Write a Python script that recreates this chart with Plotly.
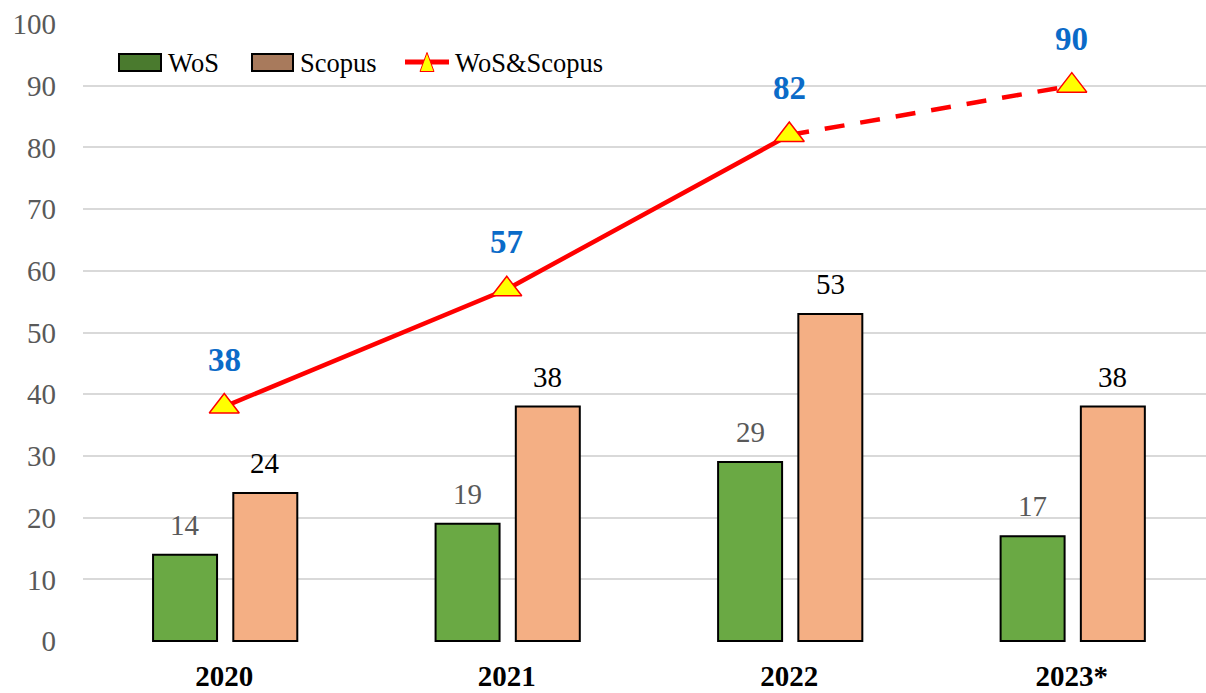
import plotly.graph_objects as go

years = ["2020", "2021", "2022", "2023*"]
wos = [14, 19, 29, 17]
scopus = [24, 38, 53, 38]
total = [38, 57, 82, 90]
yticks = [0, 10, 20, 30, 40, 50, 60, 70, 80, 90, 100]

FONT = "Liberation Serif, Times New Roman, serif"
GREEN = "#6AA944"
ORANGE = "#F4AF84"
RED = "#FF0000"
xi = list(range(len(years)))

W, H = 1206, 693
L, R, T, B = 83, 0, 23, 51
PW, PH = W - L - R, H - T - B


def px(X):
    return (X - L) / PW


def py(Y):
    return (H - B - Y) / PH


fig = go.Figure()
fig.add_trace(go.Bar(
    x=xi, y=wos, name="WoS", width=0.2265, offset=-0.252, showlegend=False,
    marker=dict(color=GREEN, line=dict(color="black", width=2)),
))
fig.add_trace(go.Bar(
    x=xi, y=scopus, name="Scopus", width=0.2265, offset=0.032, showlegend=False,
    marker=dict(color=ORANGE, line=dict(color="black", width=2)),
))
fig.add_trace(go.Scatter(
    x=xi[2:], y=total[2:], mode="lines", showlegend=False,
    line=dict(color=RED, width=4.5, dash="20px,16px"),
))
fig.add_trace(go.Scatter(
    x=xi[:3], y=total[:3], mode="lines", name="WoS&Scopus", showlegend=False,
    line=dict(color=RED, width=4.5),
))
fig.add_trace(go.Scatter(
    x=xi, y=total, mode="markers", showlegend=False, cliponaxis=False,
    marker=dict(symbol="triangle-up", size=26, color="#FFFF00", line=dict(color=RED, width=1.5)),
))

for x, v in zip(xi, wos):
    fig.add_annotation(x=x - 0.1385, y=v, text=str(v), showarrow=False, yshift=30, yanchor="middle",
                       font=dict(family=FONT, size=29, color="#595959"))
for x, v in zip(xi, scopus):
    fig.add_annotation(x=x + 0.1455, y=v, text=str(v), showarrow=False, yshift=30, yanchor="middle",
                       font=dict(family=FONT, size=29, color="black"))
for x, v in zip(xi, total):
    fig.add_annotation(x=x, y=v, text=f"<b>{v}</b>", showarrow=False, yshift=47, yanchor="middle",
                       font=dict(family=FONT, size=33, color="#0B6BC8"))

# custom legend (pixel positions in the picture)
shapes = []
shapes.append(dict(type="rect", xref="paper", yref="paper", x0=px(119), x1=px(161), y0=py(71), y1=py(54),
                   fillcolor="#4A7A2E", line=dict(color="black", width=2)))
shapes.append(dict(type="rect", xref="paper", yref="paper", x0=px(252), x1=px(293), y0=py(71), y1=py(54),
                   fillcolor="#A87A5C", line=dict(color="black", width=2)))
shapes.append(dict(type="line", xref="paper", yref="paper", x0=px(405), x1=px(449), y0=py(62), y1=py(62),
                   line=dict(color=RED, width=5)))
shapes.append(dict(type="path", xref="paper", yref="paper",
                   path=f"M {px(420)} {py(71.5)} L {px(427)} {py(52.5)} L {px(434)} {py(71.5)} Z",
                   fillcolor="#FFFF00", line=dict(color=RED, width=1)))
fig.update_layout(shapes=shapes)
for X, label in [(166, "WoS"), (298, "Scopus"), (453, "WoS&Scopus")]:
    fig.add_annotation(xref="paper", yref="paper", x=px(X), y=py(63), xanchor="left", yanchor="middle",
                       text=label, showarrow=False, font=dict(family=FONT, size=26.5, color="black"))

fig.update_layout(
    width=W, height=H,
    margin=dict(l=L, r=R, t=T, b=B, autoexpand=False),
    plot_bgcolor="white", paper_bgcolor="white",
    barmode="overlay",
    showlegend=False,
    xaxis=dict(range=[-0.5, 3.475], tickmode="array", tickvals=xi, ticktext=[f"<b>{y}</b>" for y in years],
               tickfont=dict(family=FONT, size=29, color="black"), showgrid=False, zeroline=False,
               showline=False, ticks="", ticklabelstandoff=14, automargin=False),
    yaxis=dict(range=[-0.15, 100.15], tickmode="array", tickvals=yticks, showgrid=True,
               gridcolor="#D9D9D9", gridwidth=2, zeroline=False, showline=False, automargin=False,
               tickfont=dict(family=FONT, size=29, color="#595959"), ticklabelstandoff=26),
)
fig.write_html("out.html", config={"displayModeBar": False},
               post_script="document.body.style.margin='0';document.body.style.overflow='hidden';")
